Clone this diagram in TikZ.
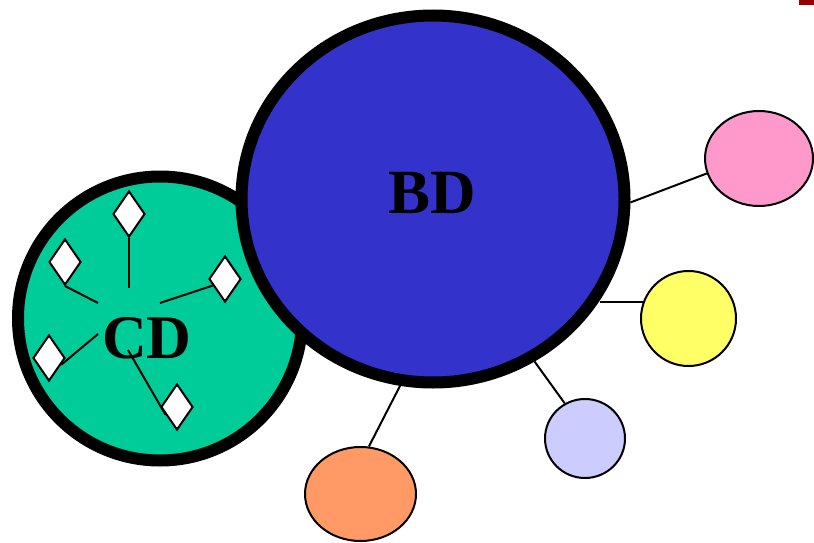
\documentclass[tikz,border=0pt]{standalone}
\usepackage{fontspec}
\setmainfont{Liberation Serif}
\usetikzlibrary{shapes.geometric}
\definecolor{cdgreen}{HTML}{00CC99}
\definecolor{bdblue}{HTML}{3333CC}
\definecolor{pinkc}{HTML}{FF99CC}
\definecolor{yellowc}{HTML}{FFFF66}
\definecolor{lavc}{HTML}{CCCCFF}
\definecolor{orangec}{HTML}{FF9966}
\definecolor{darkredc}{HTML}{990000}
\begin{document}
\begin{tikzpicture}[x=1pt,y=-1pt,
  bigcirc/.style={ellipse,draw=black,line width=12pt,inner sep=0pt},
  smallcirc/.style={ellipse,draw=black,line width=2pt,inner sep=0pt},
  gem/.style={diamond,draw=black,fill=white,line width=2pt,inner sep=0pt,minimum width=32pt,minimum height=46pt},
  link/.style={draw=black,line width=2pt},
  spoke/.style={draw=black,line width=2pt},
  biglabel/.style={font=\bfseries\fontsize{63}{63}\selectfont,inner sep=0pt,anchor=base}]
\useasboundingbox (0,0) rectangle (814,543);
\fill[darkredc] (799,0) rectangle (814,5);
% CD circle
\node[bigcirc,fill=cdgreen,minimum width=284pt,minimum height=284pt] (CD) at (160,318.5) {};
% diamonds
\node[gem] (d1) at (129,214) {};
\node[gem] (d2) at (65,262) {};
\node[gem] (d3) at (225,279) {};
\node[gem] (d4) at (49,358) {};
\node[gem] (d5) at (177,407) {};
\coordinate (e1) at (129,288);
\coordinate (e2) at (98,303);
\coordinate (e3) at (160,303);
\coordinate (e4) at (98,334);
\coordinate (e5) at (128,350);
\path[spoke] (d1.south) -- (e1);
\path[spoke] (d2.south) -- (e2);
\path[spoke] (d3.208) -- (e3);
\path[spoke] (d4.-29) -- (e4);
\path[spoke] (d5.214) -- (e5);
\node[biglabel,font=\bfseries\fontsize{62}{62}\selectfont] (cdlabel) at (147,358) {CD};
% BD circle
\node[bigcirc,fill=bdblue,minimum width=383pt,minimum height=367pt] (BD) at (433,199) {};
\node[biglabel] (bdlabel) at (432,213) {BD};
% satellites
\node[smallcirc,fill=pinkc,minimum width=108pt,minimum height=95pt] (pink) at (759,158.5) {};
\node[smallcirc,fill=yellowc,minimum width=95pt,minimum height=95pt] (yellow) at (688.5,318.5) {};
\node[smallcirc,fill=lavc,minimum width=80pt,minimum height=79pt] (lav) at (585,438.5) {};
\node[smallcirc,fill=orangec,minimum width=111pt,minimum height=94pt] (orange) at (360.5,494) {};
\path[link] (BD.-1.7) -- (pink.196);
\path[link] (BD.-31.8 |- yellow.160) -- (yellow.160);
\path[link] (BD.-58) -- (lav.120);
\path[link] (BD.-100) -- (orange.80);
\end{tikzpicture}
\end{document}
